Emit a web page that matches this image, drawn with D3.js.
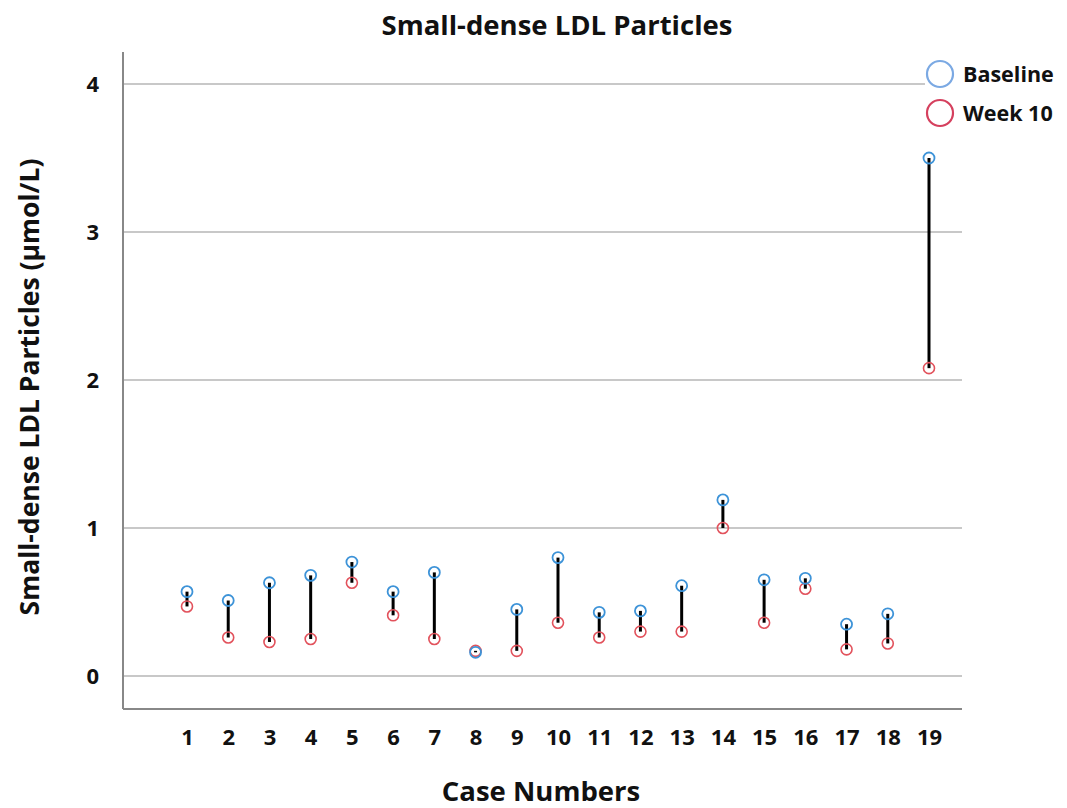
<!DOCTYPE html>
<html>
<head>
<meta charset="utf-8">
<script src="https://cdn.jsdelivr.net/npm/d3@7"></script>
<style>
  body { margin: 0; background: #fff; }
  text { font-family: "Open Sans", "Noto Sans", sans-serif; font-weight: bold; fill: #111; }
</style>
</head>
<body>
<div id="viz"></div>
<script>
var cases = ["1","2","3","4","5","6","7","8","9","10","11","12","13","14","15","16","17","18","19"];
var baseline = [0.57,0.51,0.63,0.68,0.77,0.57,0.70,0.16,0.45,0.80,0.43,0.44,0.61,1.19,0.65,0.66,0.35,0.42,3.50];
var week10 = [0.47,0.26,0.23,0.25,0.63,0.41,0.25,0.17,0.17,0.36,0.26,0.30,0.30,1.00,0.36,0.59,0.18,0.22,2.08];
var yTicks = [0, 1, 2, 3, 4];
var seriesNames = ["Baseline", "Week 10"];

var w = 1067;
var h = 808;
var plotLeft = 123, plotRight = 962, plotTop = 52, plotBottom = 709;

var svg = d3.select("#viz")
    .append("svg")
    .attr("width", w)
    .attr("height", h);

var x = d3.scalePoint()
    .domain(cases)
    .range([187, 929]);

var y = d3.scaleLinear()
    .domain([0, 4])
    .range([676, 84]);

// gridlines
svg.selectAll("line.grid")
    .data(yTicks)
    .enter()
    .append("line")
    .attr("class", "grid")
    .attr("x1", plotLeft)
    .attr("x2", plotRight)
    .attr("y1", function(d) { return y(d); })
    .attr("y2", function(d) { return y(d); })
    .attr("stroke", "#c8c8c8")
    .attr("stroke-width", 2);

// axes frame
svg.append("line")
    .attr("x1", plotLeft).attr("x2", plotLeft)
    .attr("y1", plotTop).attr("y2", plotBottom)
    .attr("stroke", "#888").attr("stroke-width", 2);
svg.append("line")
    .attr("x1", plotLeft).attr("x2", plotRight)
    .attr("y1", plotBottom).attr("y2", plotBottom)
    .attr("stroke", "#888").attr("stroke-width", 2);

// y tick labels
var yAxis = svg.append("g")
    .attr("transform", "translate(" + plotLeft + ",0)")
    .call(d3.axisLeft(y).tickValues(yTicks).tickSize(0).tickPadding(24).tickFormat(d3.format("d")));
yAxis.select(".domain").remove();
yAxis.selectAll("text")
    .attr("font-size", 22)
    .attr("font-family", null)
    .attr("dy", "0.35em");

// x tick labels
var xAxis = svg.append("g")
    .attr("transform", "translate(0," + plotBottom + ")")
    .call(d3.axisBottom(x).tickSize(0).tickPadding(20));
xAxis.select(".domain").remove();
xAxis.selectAll("text")
    .attr("font-size", 22)
    .attr("font-family", null);

// connecting lines
var pairs = cases.map(function(c, i) { return {c: c, b: baseline[i], w: week10[i]}; });

svg.selectAll("line.drop")
    .data(pairs)
    .enter()
    .append("line")
    .attr("class", "drop")
    .attr("x1", function(d) { return x(d.c); })
    .attr("x2", function(d) { return x(d.c); })
    .attr("y1", function(d) { return y(d.b); })
    .attr("y2", function(d) { return y(d.w); })
    .attr("stroke", "#000")
    .attr("stroke-width", 3);

svg.selectAll("circle.wk")
    .data(pairs)
    .enter()
    .append("circle")
    .attr("class", "wk")
    .attr("cx", function(d) { return x(d.c); })
    .attr("cy", function(d) { return y(d.w); })
    .attr("r", 5.5)
    .attr("fill", "none")
    .attr("stroke", "#e2525c")
    .attr("stroke-width", 1.6);

svg.selectAll("circle.bl")
    .data(pairs)
    .enter()
    .append("circle")
    .attr("class", "bl")
    .attr("cx", function(d) { return x(d.c); })
    .attr("cy", function(d) { return y(d.b); })
    .attr("r", 5.5)
    .attr("fill", "none")
    .attr("stroke", "#3d93d8")
    .attr("stroke-width", 1.8);

// legend
var legend = svg.append("g").attr("transform", "translate(925,58)");
legend.append("rect")
    .attr("x", 0).attr("y", 0)
    .attr("width", 142).attr("height", 75)
    .attr("fill", "#fff");
var legendColors = ["#7ba9e3", "#d5405e"];
seriesNames.forEach(function(name, i) {
    legend.append("circle")
        .attr("cx", 15)
        .attr("cy", 16 + i * 39)
        .attr("r", 13)
        .attr("fill", "none")
        .attr("stroke", legendColors[i])
        .attr("stroke-width", 2.2);
    legend.append("text")
        .attr("x", 38)
        .attr("y", 16 + i * 39)
        .attr("dy", "0.35em")
        .attr("font-size", 21.5)
        .text(name);
});

// titles
svg.append("text")
    .attr("x", 557)
    .attr("y", 35)
    .attr("text-anchor", "middle")
    .attr("font-size", 27.5)
    .text("Small-dense LDL Particles");

svg.append("text")
    .attr("x", 541)
    .attr("y", 801)
    .attr("text-anchor", "middle")
    .attr("font-size", 27.5)
    .text("Case Numbers");

svg.append("text")
    .attr("transform", "translate(39,387) rotate(-90)")
    .attr("text-anchor", "middle")
    .attr("font-size", 26.5)
    .text("Small-dense LDL Particles (µmol/L)");
</script>
</body>
</html>
